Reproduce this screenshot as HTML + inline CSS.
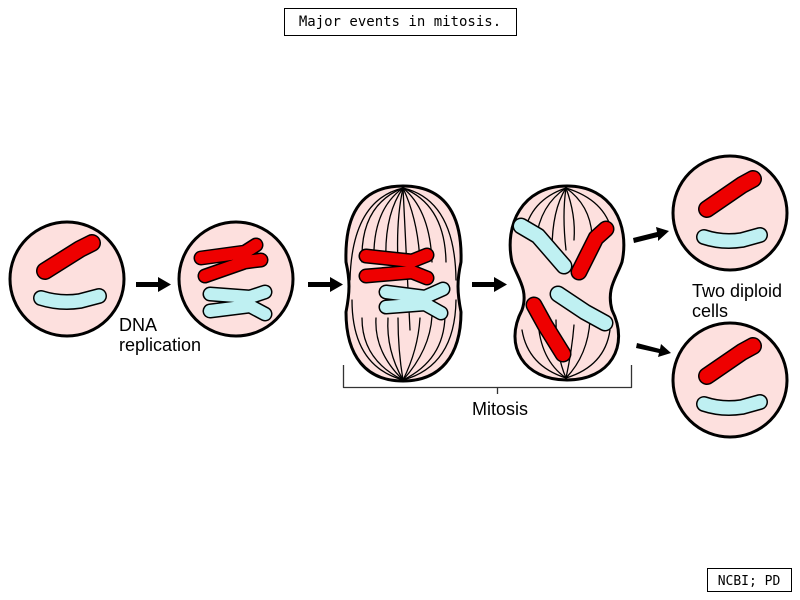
<!DOCTYPE html>
<html><head><style>
html,body{margin:0;padding:0;background:#fff;width:800px;height:600px;overflow:hidden}
svg{display:block}
</style></head><body>
<svg width="800" height="600" viewBox="0 0 800 600" xmlns="http://www.w3.org/2000/svg">
<defs>
<clipPath id="c3"><path d="M403,186 C455,186 462,230 461,262 C457,280 457,292 461,312 C461,356 440,381 403,381 C366,381 346,356 346,312 C350,292 350,280 346,262 C345,230 351,186 403,186 Z"/></clipPath>
<clipPath id="c4"><path d="M567,186 C612,186 630,225 622,262 C617,277 606,288 612,310 C630,346 610,380 567,380 C524,380 503,346 522,310 C529,290 517,277 512,262 C504,225 522,186 567,186 Z"/></clipPath>
</defs>

<rect x="284.5" y="8.5" width="232" height="27" fill="#fff" stroke="#000" stroke-width="1"/>
<text x="400" y="26" text-anchor="middle" font-family="DejaVu Sans Mono, monospace" font-size="14">Major events in mitosis.</text>
<rect x="707.5" y="568.5" width="84" height="23" fill="#fff" stroke="#000" stroke-width="1"/>
<text x="749" y="585" text-anchor="middle" font-family="DejaVu Sans Mono, monospace" font-size="13">NCBI; PD</text>

<g stroke-linecap="round" stroke-linejoin="round" fill="none">
<circle cx="67" cy="279" r="57" fill="#fde0de" stroke="#000" stroke-width="3"/>
<path d="M45,271 L80,249 L92,243" stroke="#000" stroke-width="18"/>
<path d="M45,271 L80,249 L92,243" stroke="#e00" stroke-width="15"/>
<path d="M41,298 Q60,304 80,301 L99,296" stroke="#000" stroke-width="16"/>
<path d="M41,298 Q60,304 80,301 L99,296" stroke="#bff0f2" stroke-width="13"/>

<circle cx="236" cy="279" r="57" fill="#fde0de" stroke="#000" stroke-width="3"/>
<path d="M201,258 L245,252 L256,245 M205,276 L245,262 L261,260" stroke="#000" stroke-width="15"/>
<path d="M201,258 L245,252 L256,245 M205,276 L245,262 L261,260" stroke="#e00" stroke-width="12"/>
<path d="M210,294 L250,297 L265,292 M210,311 L250,306 L265,314" stroke="#000" stroke-width="15"/>
<path d="M210,294 L250,297 L265,292 M210,311 L250,306 L265,314" stroke="#bff0f2" stroke-width="12"/>

<path d="M403,186 C455,186 462,230 461,262 C457,280 457,292 461,312 C461,356 440,381 403,381 C366,381 346,356 346,312 C350,292 350,280 346,262 C345,230 351,186 403,186 Z" fill="#fde0de"/>
<g clip-path="url(#c3)" stroke="#000" stroke-width="1.3">
<path d="M403,188 Q352,200 350,280"/><path d="M403,188 Q360,205 362,262"/><path d="M403,188 Q372,210 374,262"/>
<path d="M403,188 Q384,215 386,262"/><path d="M403,188 Q396,220 398,262"/><path d="M403,188 L410,330"/>
<path d="M403,188 Q418,220 420,262"/><path d="M403,188 Q430,210 432,262"/><path d="M403,188 Q445,205 446,262"/><path d="M403,188 Q455,200 456,280"/>
<path d="M403,380 Q352,366 352,300"/><path d="M403,380 Q362,360 362,318"/><path d="M403,380 Q374,352 376,318"/>
<path d="M403,380 Q386,350 388,318"/><path d="M403,380 Q398,350 398,318"/><path d="M403,380 Q418,350 420,318"/>
<path d="M403,380 Q430,350 432,316"/><path d="M403,380 Q444,360 445,316"/><path d="M403,380 Q455,366 456,300"/>
</g>
<path d="M403,186 C455,186 462,230 461,262 C457,280 457,292 461,312 C461,356 440,381 403,381 C366,381 346,356 346,312 C350,292 350,280 346,262 C345,230 351,186 403,186 Z" stroke="#000" stroke-width="3"/>
<path d="M366,256 L412,261 L427,255 M366,276 L412,272 L427,278" stroke="#000" stroke-width="15"/>
<path d="M366,256 L412,261 L427,255 M366,276 L412,272 L427,278" stroke="#e00" stroke-width="12"/>
<path d="M386,292 L425,297 L443,289 M386,307 L425,304 L441,313" stroke="#000" stroke-width="15"/>
<path d="M386,292 L425,297 L443,289 M386,307 L425,304 L441,313" stroke="#bff0f2" stroke-width="12"/>

<path d="M567,186 C612,186 630,225 622,262 C617,277 606,288 612,310 C630,346 610,380 567,380 C524,380 503,346 522,310 C529,290 517,277 512,262 C504,225 522,186 567,186 Z" fill="#fde0de"/>
<g clip-path="url(#c4)" stroke="#000" stroke-width="1.3">
<path d="M566,188 Q530,200 524,235"/><path d="M566,188 Q540,205 536,240"/><path d="M566,188 Q552,210 552,250"/>
<path d="M566,188 Q562,215 566,250"/><path d="M566,188 Q576,215 574,240"/><path d="M566,188 Q590,205 592,235"/><path d="M566,188 Q605,200 612,232"/>
<path d="M566,378 Q528,366 522,330"/><path d="M566,378 Q540,360 538,320"/><path d="M566,378 Q556,355 556,320"/>
<path d="M566,378 Q572,350 574,325"/><path d="M566,378 Q588,355 590,320"/><path d="M566,378 Q605,366 610,330"/>
</g>
<path d="M567,186 C612,186 630,225 622,262 C617,277 606,288 612,310 C630,346 610,380 567,380 C524,380 503,346 522,310 C529,290 517,277 512,262 C504,225 522,186 567,186 Z" stroke="#000" stroke-width="3"/>
<path d="M521,226 L538,236 L564,266" stroke="#000" stroke-width="17"/><path d="M521,226 L538,236 L564,266" stroke="#bff0f2" stroke-width="14"/>
<path d="M606,229 L596,238 L579,272" stroke="#000" stroke-width="17"/><path d="M606,229 L596,238 L579,272" stroke="#e00" stroke-width="14"/>
<path d="M558,294 L585,312 L605,323" stroke="#000" stroke-width="17"/><path d="M558,294 L585,312 L605,323" stroke="#bff0f2" stroke-width="14"/>
<path d="M534,305 L545,325 L563,354" stroke="#000" stroke-width="17"/><path d="M534,305 L545,325 L563,354" stroke="#e00" stroke-width="14"/>

<circle cx="730" cy="213" r="57" fill="#fde0de" stroke="#000" stroke-width="3"/>
<path d="M707,209 L742,185 L753,179" stroke="#000" stroke-width="18"/><path d="M707,209 L742,185 L753,179" stroke="#e00" stroke-width="15"/>
<path d="M704,237 Q722,243 742,240 L760,235" stroke="#000" stroke-width="16"/><path d="M704,237 Q722,243 742,240 L760,235" stroke="#bff0f2" stroke-width="13"/>
<circle cx="730" cy="380" r="57" fill="#fde0de" stroke="#000" stroke-width="3"/>
<path d="M707,376 L742,352 L753,346" stroke="#000" stroke-width="18"/><path d="M707,376 L742,352 L753,346" stroke="#e00" stroke-width="15"/>
<path d="M704,404 Q722,410 742,407 L760,402" stroke="#000" stroke-width="16"/><path d="M704,404 Q722,410 742,407 L760,402" stroke="#bff0f2" stroke-width="13"/>

<path d="M343.5,365 L343.5,387.5 L631.5,387.5 L631.5,365 M497.5,387.5 L497.5,394" stroke="#333" stroke-width="1.3" stroke-linecap="butt"/>
</g>

<g fill="#000">
<rect x="136" y="282" width="24" height="5"/><polygon points="158,277 171,284.5 158,292"/>
<rect x="308" y="282" width="24" height="5"/><polygon points="330,277 343,284.5 330,292"/>
<rect x="472" y="282" width="24" height="5"/><polygon points="494,277 507,284.5 494,292"/>
<polygon points="633,238 657,232 656,227 669,231 658,241 658,237 634,243"/>
<polygon points="637,343 660,349 661,344 671,353 658,357 659,353 636,348"/>
</g>

<g font-family="Liberation Sans, sans-serif" font-size="18" fill="#000">
<text x="119" y="331">DNA</text>
<text x="119" y="351">replication</text>
<text x="500" y="415" text-anchor="middle">Mitosis</text>
<text x="692" y="297">Two diploid</text>
<text x="692" y="317">cells</text>
</g>
</svg>
</body></html>
